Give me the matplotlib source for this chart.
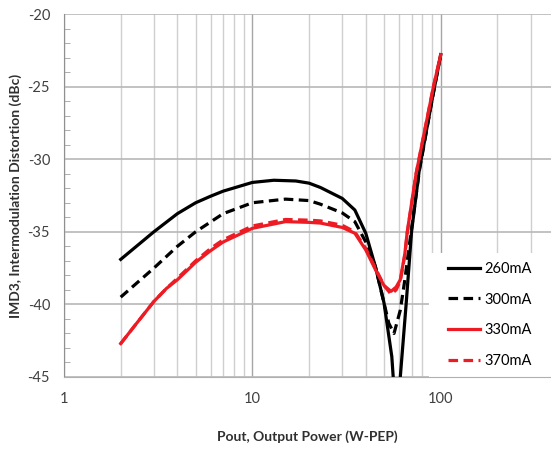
"""IMD3 versus output power for four quiescent drain currents."""

import matplotlib

matplotlib.use("Agg")
import matplotlib.pyplot as plt
from matplotlib.patches import Rectangle
from matplotlib.ticker import FixedLocator, MultipleLocator, NullFormatter

plt.rcParams["font.family"] = ["Lato", "DejaVu Sans"]
plt.rcParams["axes.unicode_minus"] = False

# Values (W-PEP, dBc).
x_260 = [2, 3, 4, 5, 6, 7, 10, 13, 17, 20, 23, 30, 35, 40, 45, 50, 55, 58, 61, 65.5, 70,
         77, 90, 100]
y_260 = [-36.9, -35.0, -33.75, -33.0, -32.55, -32.2, -31.6, -31.45, -31.5, -31.65, -31.95,
         -32.7, -33.5, -35.1, -37.4, -39.9, -43.6, -48.0, -45.0, -40.0, -35.0, -30.7, -25.9,
         -22.8]

x_300 = [2, 3, 4, 5, 7, 10, 15, 20, 23, 30, 35, 40, 45, 50, 53, 56.5, 61, 64.5, 68, 77, 90,
         100]
y_300 = [-39.5, -37.5, -36.0, -35.0, -33.75, -33.0, -32.75, -32.85, -33.1, -33.7, -34.3,
         -35.7, -37.4, -39.9, -41.3, -42.0, -40.4, -38.3, -36.0, -30.8, -25.9, -22.8]

x_330 = [2, 2.43, 3, 3.5, 4, 5, 6, 7, 10, 15, 20, 23, 30, 35, 40, 45, 50, 54.5, 58, 61,
         64.5, 66.4, 74, 80, 91.5, 100]
y_330 = [-42.7, -41.3, -39.8, -38.9, -38.3, -37.1, -36.3, -35.7, -34.76, -34.3, -34.35,
         -34.4, -34.7, -35.1, -36.25, -37.6, -38.7, -39.1, -38.8, -38.3, -36.5, -35.0, -31.0,
         -28.8, -25.0, -22.8]

x_370 = [2, 2.43, 3, 3.5, 4, 5, 6, 7, 10, 15, 20, 23, 30, 35, 40, 45, 50, 54.5, 58, 61,
         64.5, 66.4, 74, 80, 91.5, 100]
y_370 = [-42.7, -41.3, -39.8, -38.9, -38.2, -37.0, -36.15, -35.55, -34.6, -34.15, -34.2,
         -34.25, -34.55, -35.0, -36.15, -37.5, -38.7, -39.3, -39.0, -38.4, -36.6, -35.1,
         -31.0, -28.8, -25.0, -22.8]

labels = ["260mA", "300mA", "330mA", "370mA"]
x_ticks = [1, 10, 100]
y_ticks = [-45, -40, -35, -30, -25, -20]

RED = "#ed1c24"

W, H = 551, 451
fig = plt.figure(figsize=(W / 100, H / 100), dpi=100)
ax = fig.add_axes([64 / W, 1 - 377 / H, 1 - 64 / W, (377 - 14) / H])

ax.set_xscale("log")
ax.set_xlim(1, 385)
ax.set_ylim(-45, -20)

ax.xaxis.set_major_locator(FixedLocator(x_ticks))
ax.xaxis.set_major_formatter(plt.FuncFormatter(lambda v, _: f"{v:g}"))
ax.xaxis.set_minor_locator(FixedLocator([m * d for d in (1, 10, 100) for m in range(2, 10)]))
ax.xaxis.set_minor_formatter(NullFormatter())
ax.yaxis.set_major_locator(FixedLocator(y_ticks))
ax.yaxis.set_minor_locator(MultipleLocator(1))

ax.grid(True, which="major", axis="x", color="#a6a6a6", linewidth=1.0)
ax.grid(True, which="minor", axis="x", color="#cfcfcf", linewidth=1.0)
ax.grid(True, which="major", axis="y", color="#b8b8b8", linewidth=1.2)

ax.tick_params(axis="both", which="major", length=0, labelsize=10.5, colors="#404040")
ax.tick_params(axis="x", which="major", pad=10.5)
ax.tick_params(axis="y", which="major", pad=10)
ax.tick_params(axis="x", which="minor", length=0)
ax.tick_params(axis="y", which="minor", direction="in", length=4, color="#a0a0a0")

for side in ("top", "right"):
    ax.spines[side].set_visible(False)
ax.spines["left"].set_color("#909090")
ax.spines["bottom"].set_color("#b0b0b0")

lw = 2.3
ax.plot(x_260, y_260, color="black", lw=lw, label=labels[0])
ax.plot(x_300, y_300, color="black", lw=lw, ls=(0, (3, 1.7)), label=labels[1])
ax.plot(x_330, y_330, color=RED, lw=lw, label=labels[2])
ax.plot(x_370, y_370, color=RED, lw=lw, ls=(0, (3, 1.7)), label=labels[3])

# white box behind the legend hides the grid there
x0 = (429 - 64) / (W - 64)
ax.add_patch(Rectangle((x0, 0), 1 - x0, (377 - 253) / (377 - 14), transform=ax.transAxes,
                       facecolor="white", edgecolor="none", zorder=1.8))

ax.legend(loc="upper left", bbox_to_anchor=(442 / W, 1 - 256 / H),
          bbox_transform=fig.transFigure, frameon=False, fontsize=10.5,
          handlelength=2.2, handletextpad=0.3, labelspacing=1.15, borderaxespad=0)

ax.set_xlabel("Pout, Output Power (W-PEP)", fontsize=10, fontweight="bold", color="#303030")
ax.set_ylabel("IMD3, Intermodulation Distortion (dBc)", fontsize=10, fontweight="bold",
              color="#303030")
ax.xaxis.set_label_coords(0.5, -(437 - 377) / (377 - 14), transform=ax.transAxes)
ax.yaxis.set_label_coords(-(64 - 16) / (W - 64), 0.5, transform=ax.transAxes)
ax.xaxis.label.set_va("center")
ax.yaxis.label.set_va("center")

fig.savefig("out.png", dpi=100)
